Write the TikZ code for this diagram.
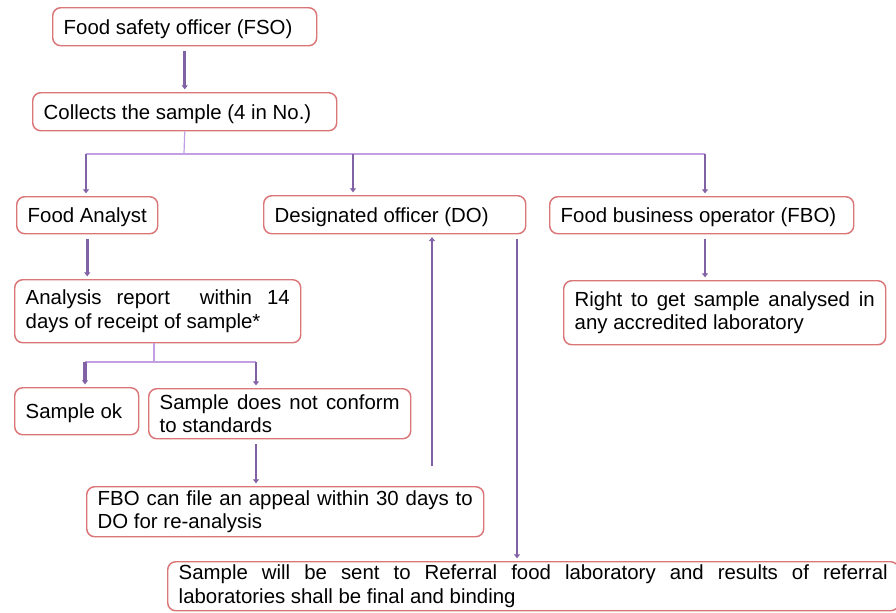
\documentclass[tikz,border=0pt]{standalone}
\usepackage{fontspec}
\setmainfont{Liberation Sans}
\usetikzlibrary{arrows.meta}

\definecolor{boxred}{RGB}{218,118,120}
\definecolor{arrowpurple}{RGB}{128,98,165}
\definecolor{branchlilac}{RGB}{192,160,226}

\tikzset{every picture/.style={line width=0.75pt}}
\tikzset{
  box/.style={draw=boxred, line width=1.1pt, rounded corners=6pt, anchor=north west, align=justify, inner xsep=8.25pt, inner ysep=0pt, font=\fontsize{15.3}{17.8}\selectfont},
  oneline/.style={box, text depth=0pt},
  arr/.style={draw=arrowpurple, line width=2.2pt, -{Triangle[length=3pt,width=4.5pt]}, shorten <=3.5pt, shorten >=2pt},
  branch/.style={draw=branchlilac, line width=0.9pt}
}

\begin{document}
\begin{tikzpicture}[x=0.75pt,y=0.75pt,yscale=-1,xscale=1]
\useasboundingbox (0,0) rectangle (896,612);

%Flowchart: Process
\node (fso) [oneline, text width=181.5pt, minimum height=28.5pt] at (52,7) {Food safety officer (FSO)};
%Flowchart: Process
\node (collect) [oneline, text width=211.5pt, minimum height=28.5pt] at (32,92) {Collects the sample (4 in No.)};
%Flowchart: Process
\node (analyst) [oneline, text width=89.25pt, minimum height=27.75pt] at (16,196) {Food Analyst};
%Flowchart: Process
\node (do) [oneline, text width=180pt, minimum height=28.5pt] at (263,195) {Designated officer (DO)};
%Flowchart: Process
\node (fbo) [oneline, text width=211.5pt, minimum height=27.75pt] at (549,196) {Food business operator (FBO)};
%Flowchart: Process
\node (lab) [box, text width=225pt, minimum height=48pt] at (563,280) {Right to get sample analysed in\linebreak any accredited laboratory};
%Flowchart: Process
\node (report) [box, text width=198pt, minimum height=47.25pt] at (14,279) {Analysis report \ within 14\linebreak days of receipt of sample*};
%Flowchart: Process
\node (ok) [oneline, text width=76.5pt, minimum height=35.25pt] at (14,387) {Sample ok};
%Flowchart: Process
\node (notconf) [box, text width=180pt, minimum height=37.5pt] at (148,388) {Sample does not conform\linebreak to standards};
%Flowchart: Process
\node (appeal) [box, text width=281.25pt, minimum height=37.5pt] at (86,486) {FBO can file an appeal within 30 days to\linebreak DO for re-analysis};
%Flowchart: Process
\node (referral) [box, text width=531.75pt, minimum height=36.75pt] at (167,561) {Sample will be sent to Referral food laboratory and results of referral\linebreak laboratories shall be final and binding};

%Straight Lines
\draw [arr] (fso.south) -- (collect.north);

%Straight Lines
\coordinate (split) at (184,154);
\coordinate (ba) at (86,154);
\coordinate (bd) at (353,154);
\coordinate (bf) at (705,154);
\draw [branch] (collect.south) -- (split);
\draw [branch] (ba) -- (bf);
\draw [arr, shorten <=0pt] (ba) -- (ba |- analyst.north);
\draw [arr, shorten <=0pt] (bd) -- (bd |- do.north);
\draw [arr, shorten <=0pt] (bf) -- (bf |- fbo.north);

%Straight Lines
\draw [arr] (analyst.south) -- (analyst.south |- report.north);
\draw [arr] (fbo.south -| bf) -- (bf |- lab.north);

%Straight Lines
\coordinate (split2) at (154,362);
\coordinate (bo) at (85,362);
\coordinate (bn) at (256,362);
\draw [branch] (report.south -| split2) -- (split2);
\draw [branch] (bo) -- (bn);
\draw [arr, shorten <=0pt, line width=3pt] (bo) -- (bo |- ok.north);
\draw [arr, shorten <=0pt] (bn) -- (bn |- notconf.north);
\draw [arr] (notconf.south -| bn) -- (bn |- appeal.north);

%Straight Lines
\coordinate (up) at (432,466);
\coordinate (dn) at (517,0);
\draw [arr, shorten <=0pt] (up) -- (up |- do.south);
\draw [arr] (do.south -| dn) -- (dn |- referral.north);

\end{tikzpicture}
\end{document}
